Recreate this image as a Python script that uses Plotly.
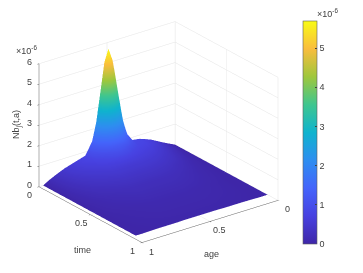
import plotly.graph_objects as go

ages = [0,.05,.1,.18,.26,.32,.37,.40,.43,.46,.49,.52,.55,.58,.61,.66,.74,.81,.88,.93,.97]
times = [0,.02,.04,.07,.1,.15,.2,.3,.4,.6,.8,.9]
nb = [
 [0,.16,.33,.62,.82,.88,1.42,2.28,3.66,5.08,5.69,5.08,3.66,2.28,1.41,.82,.66,.52,.32,.16,0],
 [0,.16,.33,.61,.81,.87,1.35,2.10,3.32,4.57,5.11,4.57,3.32,2.10,1.34,.80,.65,.51,.32,.16,0],
 [0,.15,.32,.60,.79,.85,1.19,1.73,2.58,3.46,3.84,3.46,2.58,1.73,1.18,.79,.64,.50,.31,.15,0],
 [0,.14,.30,.56,.74,.80,.97,1.22,1.60,2.00,2.17,2.00,1.60,1.22,.96,.74,.61,.48,.29,.15,0],
 [0,.12,.27,.50,.67,.73,.81,.90,1.04,1.18,1.24,1.18,1.04,.90,.80,.68,.56,.44,.27,.14,0],
 [0,.10,.22,.42,.57,.63,.67,.69,.72,.75,.76,.75,.72,.69,.66,.59,.49,.38,.24,.12,0],
 [0,.08,.18,.35,.47,.53,.55,.56,.56,.56,.56,.56,.56,.56,.55,.50,.41,.32,.20,.10,0],
 [0,.05,.11,.22,.31,.35,.37,.38,.38,.38,.38,.38,.38,.38,.37,.34,.28,.22,.13,.07,0],
 [0,.03,.07,.14,.20,.23,.24,.24,.24,.24,.24,.24,.24,.24,.24,.22,.18,.14,.09,.04,0],
 [0,.01,.03,.06,.09,.10,.11,.11,.11,.11,.11,.11,.11,.11,.11,.10,.08,.06,.04,.02,0],
 [0,.01,.02,.03,.04,.05,.05,.05,.05,.05,.05,.05,.05,.05,.05,.05,.04,.03,.02,.01,0],
 [0,0,.01,.02,.02,.02,.03,.03,.03,.03,.03,.03,.03,.03,.03,.02,.02,.02,.01,0,0],
]
age_ticks = [0, .5, 1]
time_ticks = [0, .5, 1]
z_ticks = [0, 1, 2, 3, 4, 5, 6]
parula = [[0,"#3e26a8"],[.125,"#4741e0"],[.25,"#4464fb"],[.375,"#2e8ef0"],[.5,"#0fb3ce"],
          [.625,"#3fc68f"],[.75,"#9fc73c"],[.875,"#f9bd3d"],[1,"#f9fb15"]]
GREY = "#404040"
FONT = dict(family="Liberation Sans", size=9, color=GREY)

def ax(vals, rng):
    return dict(title=dict(text=""), range=rng, tickvals=vals, showticklabels=False,
                showgrid=True, gridcolor="#e4e4e4", gridwidth=1,
                showline=True, linecolor="#606060", linewidth=1, showbackground=False,
                zeroline=False, ticks="outside", ticklen=2, tickcolor="#606060",
                showspikes=False)

# the page body offsets the plot by 8 px, so paper positions are measured from there
def note(text, x, y, **kw):
    return dict(text=text, x=(x-8)/363, y=1-(y-8)/273, xref="paper", yref="paper", xanchor="center",
                yanchor="middle", showarrow=False, font=FONT, **kw)

def tick(v, x, y, z, dx, dy):
    return dict(text=str(v), x=x, y=y, z=z, xshift=dx, yshift=dy, showarrow=False,
                xanchor="center", yanchor="middle", font=FONT)

scene_notes = (
    [tick(v, 1, 0, v, -9, 2) for v in z_ticks]
    + [tick(v, 1, v, 0, -9, -8) for v in time_ticks]
    + [tick(v, v, 1, 0, 10, -9) for v in age_ticks]
)

fig = go.Figure(go.Surface(
    x=ages, y=times, z=nb, cmin=0, cmax=5.69, colorscale=parula,
    lighting=dict(ambient=1, diffuse=0, specular=0, roughness=1, fresnel=0),
    contours=dict(x=dict(highlight=False), y=dict(highlight=False), z=dict(highlight=False)),
    colorbar=dict(x=295/363, xanchor="left", y=1-236/273, yanchor="bottom",
                  len=223/273, thickness=14, outlinewidth=0.6, outlinecolor="#606060",
                  tickvals=[0,1,2,3,4,5], ticks="inside", ticklen=2, tickcolor="#404040",
                  tickfont=FONT, xpad=0, ypad=0),
))
fig.update_layout(
    width=363, height=273, margin=dict(l=0, r=0, t=0, b=0, autoexpand=False),
    paper_bgcolor="white", showlegend=False,
    scene=dict(
        domain=dict(x=[0, 0.829], y=[0, 1]),
        xaxis=ax(age_ticks, [0, 1]),
        yaxis=ax(time_ticks, [0, 1]),
        zaxis=ax(z_ticks, [0, 6]),
        aspectmode="manual", aspectratio=dict(x=1.25, y=1.25, z=0.988),
        camera=dict(projection=dict(type="orthographic"),
                    eye=dict(x=0.97, y=1.283, z=0.623),
                    center=dict(x=0, y=0, z=-0.1)),
        annotations=scene_notes,
    ),
    annotations=[
        note("time", 82, 250),
        note("age", 211, 254),
        note("Nb<sub>j</sub>(t,a)", 17, 125, textangle=-90),
        note("×10<sup>-6</sup>", 26, 50),
        note("×10<sup>-6</sup>", 327, 13),
    ],
)
fig.write_html("out.html")
